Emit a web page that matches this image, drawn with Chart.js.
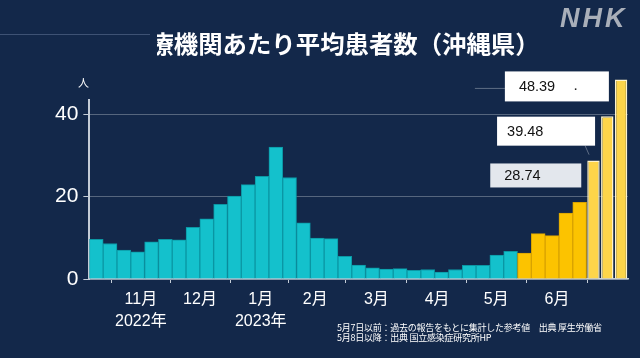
<!DOCTYPE html>
<html lang="ja">
<head>
<meta charset="UTF-8">
<title>定点医療機関あたり平均患者数（沖縄県）</title>
<script src="https://cdn.jsdelivr.net/npm/chart.js"></script>
<style>
  body { margin: 0; background: #13284a; }
  .wrap { position: relative; width: 640px; height: 358px; overflow: hidden; background: #13284a;
          font-family: 'Liberation Sans', 'Noto Sans CJK JP', sans-serif; color: #fff; }
  #c { position: absolute; left: 0; top: 0; }
  .rule { position: absolute; left: 0; top: 34px; width: 150px; height: 1px; background: #3e5274; }
  .title { position: absolute; left: 157px; top: 29px; width: 420px; height: 30px; overflow: hidden; }
  .title span { display: block; margin-left: -32px; white-space: nowrap; font-family: 'Noto Sans CJK JP', sans-serif;
                font-weight: 700; font-size: 24.4px; line-height: 28px; }
  .logo { position: absolute; left: 560px; top: 3px; font: italic 700 27px 'Liberation Sans', sans-serif;
          color: #a9afb9; letter-spacing: 3px; }
  .unit { position: absolute; left: 78px; top: 74px; font: 11px 'Noto Sans CJK JP', sans-serif; }
  .note { position: absolute; left: 337px; top: 323px; font: 9px/9.5px 'Noto Sans CJK JP', sans-serif;
          white-space: nowrap; letter-spacing: -0.25px; }
</style>
</head>
<body>
<div class="wrap">
  <canvas id="c" width="640" height="358"></canvas>
  <div class="rule"></div>
  <div class="title"><span>医療機関あたり平均患者数（沖縄県）</span></div>
  <div class="logo">NHK</div>
  <div class="unit">人</div>
  <div class="note">5月7日以前：過去の報告をもとに集計した参考値　出典 厚生労働省<br>5月8日以降：出典 国立感染症研究所HP</div>
</div>

<script>
    // weekly values, Oct 2022 - Jun 2023
    const oldSource = [9.6, 8.6, 7.0, 6.6, 9.0, 9.6, 9.5, 12.5, 14.6, 18.1,
                       20.1, 22.9, 24.9, 32.0, 24.6, 13.6, 9.9, 9.8, 5.5, 3.4,
                       2.7, 2.4, 2.5, 2.1, 2.3, 1.7, 2.3, 3.3, 3.3, 5.8, 6.7];
    const newSource = [6.3, 11.0, 10.5, 16.0, 18.6];
    const latest = [28.74, 39.48, 48.39];

    // month ticks (in week units) and their labels
    const monthTicks = [3.23, 7.51, 11.91, 15.86, 20.28, 24.68, 28.96, 33.36];
    const monthLabels = ['11月', '12月', '1月', '2月', '3月', '4月', '5月', '6月'];
    const yearLabels = ['2022年', '', '2023年', '', '', '', '', ''];
    const yTicks = [0, 20, 40];

    const mainValues = oldSource.concat(newSource);
    const total = mainValues.length + latest.length;

    const mainData = mainValues.map((v, i) => ({ x: i, y: v }));
    const latestData = latest.map((v, i) => ({ x: mainValues.length + i, y: v }));

    const mainColors = mainValues.map((v, i) => i < oldSource.length ? '#14c1cc' : '#fcc300');
    const mainBorders = mainValues.map((v, i) => i < oldSource.length ? '#0b97a4' : '#d8a200');

    const font = "'Liberation Sans', 'Noto Sans CJK JP', sans-serif";

    // label boxes next to the last three bars
    const labelBoxes = {
        id: 'labelBoxes',
        afterDatasetsDraw(chart) {
            const ctx = chart.ctx;
            const meta = chart.getDatasetMeta(1);
            const widths = [91, 98, 104];
            const heights = [24, 29, 30];
            const shift = [15, 15, 7];
            const fills = ['#e3e7ed', '#ffffff', '#ffffff'];
            const pads = [14, 10, 14];
            ctx.save();
            meta.data.forEach((bar, i) => {
                const right = bar.x - bar.width / 2 - 6;
                const left = right - widths[i];
                const top = bar.y + shift[i] - heights[i] / 2;
                ctx.strokeStyle = '#5f6e86';
                ctx.lineWidth = 1;
                if (i === 2) {
                    ctx.beginPath();
                    ctx.moveTo(left - 30, top + 17);
                    ctx.lineTo(left, top + 17);
                    ctx.stroke();
                }
                if (i === 1) {
                    ctx.beginPath();
                    ctx.moveTo(right - 10, top + heights[i]);
                    ctx.lineTo(right - 6, top + heights[i] + 9);
                    ctx.stroke();
                }
                ctx.fillStyle = fills[i];
                ctx.fillRect(left, top, widths[i], heights[i]);
                ctx.fillStyle = '#111';
                ctx.font = '14.5px ' + font;
                ctx.textBaseline = 'middle';
                ctx.fillText(latest[i].toFixed(2), left + pads[i], top + heights[i] / 2 + 1);
                if (i === 2) {
                    ctx.fillRect(left + 70, top + 17, 1.5, 1.5);
                }
            });
            ctx.restore();
        }
    };

    new Chart(document.getElementById('c').getContext('2d'), {
        type: 'bar',
        data: {
            datasets: [{
                data: mainData,
                backgroundColor: mainColors,
                borderColor: mainBorders,
                borderWidth: 1,
                barPercentage: 1,
                categoryPercentage: 1,
                grouped: false
            }, {
                data: latestData,
                backgroundColor: '#fdd54a',
                borderColor: '#fff4cc',
                borderWidth: 1.5,
                barPercentage: 0.9,
                categoryPercentage: 1,
                grouped: false,
                clip: false
            }]
        },
        options: {
            responsive: false,
            animation: false,
            layout: { padding: { left: 50, right: 12, top: 100, bottom: 19 } },
            plugins: { legend: { display: false }, tooltip: { enabled: false } },
            scales: {
                x: {
                    type: 'linear',
                    min: -0.5,
                    max: total - 0.5,
                    offset: false,
                    afterBuildTicks: scale => { scale.ticks = monthTicks.map(v => ({ value: v })); },
                    grid: { drawOnChartArea: false, tickLength: 4, color: '#c4ccd6', lineWidth: 1 },
                    border: { color: '#c4ccd6', width: 1.5 },
                    ticks: {
                        autoSkip: false,
                        maxRotation: 0,
                        padding: 6,
                        color: '#ffffff',
                        font: { family: font, size: 16, lineHeight: 1.375 },
                        callback: (v, i) => yearLabels[i] ? [monthLabels[i], yearLabels[i]] : monthLabels[i]
                    }
                },
                y: {
                    min: 0,
                    max: 43.4,
                    afterBuildTicks: scale => { scale.ticks = yTicks.map(v => ({ value: v })); },
                    grid: { color: '#56667e', lineWidth: 1, tickLength: 6, tickColor: '#c4ccd6' },
                    border: { color: '#c4ccd6', width: 2 },
                    ticks: {
                        padding: 5,
                        color: '#ffffff',
                        font: { family: font, size: 21 }
                    }
                }
            }
        },
        plugins: [labelBoxes]
    });
</script>
</body>
</html>
